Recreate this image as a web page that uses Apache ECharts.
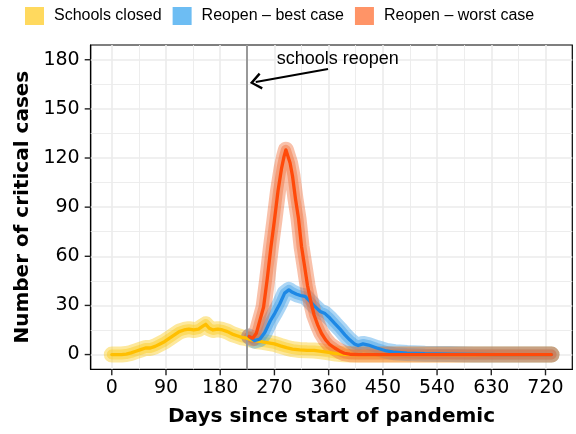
<!DOCTYPE html>
<html>
<head>
<meta charset="utf-8">
<script src="https://cdn.jsdelivr.net/npm/echarts@6/dist/echarts.min.js"></script>
<style>
html,body{margin:0;padding:0;background:#fff;}
#chart{width:576px;height:434px;}
</style>
</head>
<body>
<div id="chart"></div>
<script>
// ---- data ----
const closedDays  = [0, 8, 16, 24, 32, 40, 48, 56, 64, 72, 80, 88, 96, 104, 112, 120, 128, 136, 144, 150, 156, 162, 168, 176, 184, 192, 200, 208, 216, 224, 232, 240, 250, 260, 270, 280, 290, 300, 312, 324, 336, 348, 360, 372, 384, 400, 440, 500, 600, 730];
const closedCases = [0, 0, 0, 0.3, 1, 2, 3, 4, 4, 5, 6.5, 8, 10, 12, 14, 15, 15.5, 15, 15.5, 17, 18.5, 16, 15, 15.5, 15, 14, 12.5, 11.5, 10.5, 10, 9, 8.3, 7.8, 7.2, 6.5, 5.3, 4.2, 3.3, 2.8, 2.6, 2.5, 2, 1.3, 0.6, 0.2, 0, 0, 0, 0, 0];

const bestDays  = [228, 237, 246, 254, 263, 271, 279, 287, 294, 300, 307, 314, 321, 329, 337, 346, 354, 362, 370, 379, 387, 395, 403, 409, 417, 426, 440, 456, 470, 490, 520, 560, 600, 640, 730];
const bestCases = [11, 8.5, 9.5, 13.5, 20.5, 25.5, 31, 37.5, 39.5, 38, 36.8, 36, 35.5, 32.5, 29.4, 26.3, 25, 22.3, 19, 15.5, 12, 9, 6.5, 5.5, 6.5, 5.8, 4, 2.2, 1.4, 0.9, 0.5, 0.3, 0.1, 0, 0];

const worstDays  = [228, 234, 240, 246, 252, 258, 264, 270, 276, 282, 286, 289, 292, 296, 300, 305, 310, 315, 320, 325, 330, 336, 342, 348, 355, 362, 370, 378, 386, 395, 410, 450, 550, 650, 730];
const worstCases = [11, 10, 13, 21, 29, 46, 65, 82, 100, 114, 121, 125, 124.5, 117, 109, 95, 83, 66, 54, 42, 33, 24, 18, 13, 9, 6, 4, 2.2, 0.8, 0.2, 0, 0, 0, 0, 0];

const scenarioNames = ['Schools closed', 'Reopen \u2013 best case', 'Reopen \u2013 worst case'];
const xTicks = [0, 90, 180, 270, 360, 450, 540, 630, 720];
const xMinor = [45, 135, 225, 315, 405, 495, 585, 675];
const yTicks = [0, 30, 60, 90, 120, 150, 180];
const yMinor = [15, 45, 75, 105, 135, 165];
const reopenDay = 224.5;
const annotationText = 'schools reopen';
const arrowFrom = [359, 174.3];
const arrowTo = [239, 166.4];
const annotationAt = [375, 180.2];

// ---- styles ----
const bandColors   = ['#FAC814', '#399DE6', '#F06B34'];
const lineColors   = ['#FFBF00', '#1E88E5', '#FF4A0A'];
const legendColors = ['#FFD95E', '#6DBDF3', '#FF9467'];
const X_MIN = -35, X_MAX = 764.5, Y_MIN = -9, Y_MAX = 189;
const GRID = { left: 90.7, right: 3.7, top: 45, bottom: 64.7 };

function pairs(xs, ys) { return xs.map((d, i) => [d, ys[i]]); }
const dataSets = [pairs(closedDays, closedCases), pairs(bestDays, bestCases), pairs(worstDays, worstCases)];

const series = [];
dataSets.forEach((data, k) => {
  series.push({
    type: 'line', name: scenarioNames[k], data: data, showSymbol: false, symbol: 'none', z: 2,
    silent: true, animation: false,
    lineStyle: { color: bandColors[k], width: 16, opacity: 0.42, cap: 'round', join: 'round' },
    itemStyle: { color: legendColors[k] },
    emphasis: { disabled: true }
  });
  series.push({
    type: 'line', name: scenarioNames[k], data: data, showSymbol: false, symbol: 'none', z: 2,
    silent: true, animation: false,
    lineStyle: { color: bandColors[k], width: 10, opacity: 0.42, cap: 'round', join: 'round' },
    itemStyle: { color: legendColors[k] },
    emphasis: { disabled: true }
  });
});
dataSets.forEach((data, k) => {
  series.push({
    type: 'line', name: scenarioNames[k], data: data, showSymbol: false, symbol: 'none', z: 4,
    silent: true, animation: false,
    lineStyle: { color: lineColors[k], width: 3.3, cap: 'round', join: 'round' },
    itemStyle: { color: legendColors[k] },
    emphasis: { disabled: true }
  });
});

const gridLines = [];
xTicks.forEach(v => gridLines.push({ xAxis: v, lineStyle: { width: 1.6 } }));
xMinor.forEach(v => gridLines.push({ xAxis: v, lineStyle: { width: 0.9 } }));
yTicks.forEach(v => gridLines.push({ yAxis: v, lineStyle: { width: 1.6 } }));
yMinor.forEach(v => gridLines.push({ yAxis: v, lineStyle: { width: 0.9 } }));
series[0].markLine = {
  silent: true, symbol: 'none', z: 1, animation: false,
  label: { show: false }, emphasis: { disabled: true },
  lineStyle: { color: '#EBEBEB', type: 'solid', opacity: 1 },
  data: gridLines
};
series[1].markLine = {
  silent: true, symbol: 'none', z: 3, animation: false,
  label: { show: false }, emphasis: { disabled: true },
  lineStyle: { color: '#999999', width: 2, type: 'solid', opacity: 1 },
  data: [{ xAxis: reopenDay }]
};
series[2].markLine = {
  silent: true, z: 6, animation: false,
  symbol: ['none', 'path://M5,0 L10,8 L8.8,9.1 L5,2.8 L1.2,9.1 L0,8 Z'],
  symbolSize: [17, 12],
  label: { show: false }, emphasis: { disabled: true },
  lineStyle: { color: '#000', width: 2, type: 'solid', curveness: 0.14, opacity: 1 },
  data: [[{ coord: arrowFrom }, { coord: arrowTo }]]
};
series[2].markPoint = {
  silent: true, z: 6, animation: false, symbol: 'circle', symbolSize: 0,
  label: { show: true, position: 'inside', formatter: annotationText, color: '#000',
           fontFamily: 'Liberation Sans', fontSize: 18 },
  data: [{ coord: annotationAt }]
};

const axisFont = { fontFamily: 'DejaVu Sans', fontSize: 19, color: '#000' };

// axis tick marks at the tick values, on the same linear scale as the axes
const W = 576, H = 434, TICK = 6;
const plotW = W - GRID.left - GRID.right, plotH = H - GRID.top - GRID.bottom;
function xPix(v) { return GRID.left + (v - X_MIN) / (X_MAX - X_MIN) * plotW; }
function yPix(v) { return GRID.top + (Y_MAX - v) / (Y_MAX - Y_MIN) * plotH; }
const tickEls = [];
xTicks.forEach(v => {
  const x = xPix(v), y = H - GRID.bottom;
  tickEls.push({ type: 'line', silent: true, z: 100,
    shape: { x1: x, y1: y, x2: x, y2: y + TICK },
    style: { stroke: '#222', lineWidth: 1.4 } });
});
yTicks.forEach(v => {
  const y = yPix(v), x = GRID.left;
  tickEls.push({ type: 'line', silent: true, z: 100,
    shape: { x1: x - TICK, y1: y, x2: x, y2: y },
    style: { stroke: '#222', lineWidth: 1.4 } });
});

const option = {
  animation: false,
  backgroundColor: '#fff',
  grid: Object.assign({ show: true, borderColor: '#000', borderWidth: 1.2, backgroundColor: 'transparent', containLabel: false }, GRID),
  legend: {
    left: 20, top: 2, itemWidth: 19, itemHeight: 18, itemGap: 11, icon: 'rect', selectedMode: false,
    textStyle: { fontFamily: 'Liberation Sans', fontSize: 16, color: '#000', padding: [0, 0, 0, 5] },
    data: scenarioNames.map((n, k) => ({ name: n, icon: 'rect',
      itemStyle: { color: legendColors[k], opacity: 1, borderWidth: 0 },
      lineStyle: { width: 0, opacity: 0 } }))
  },
  graphic: { elements: tickEls },
  xAxis: {
    type: 'value', min: X_MIN, max: X_MAX,
    name: 'Days since start of pandemic', nameLocation: 'middle', nameGap: 37,
    nameTextStyle: { fontFamily: 'DejaVu Sans', fontWeight: 'bold', fontSize: 20, color: '#000' },
    axisLine: { show: true, onZero: false, lineStyle: { color: '#000', width: 1.2 } },
    axisTick: { show: false },
    axisLabel: Object.assign({ customValues: xTicks, margin: 9 }, axisFont),
    splitLine: { show: false }
  },
  yAxis: {
    type: 'value', min: Y_MIN, max: Y_MAX,
    name: 'Number of critical cases', nameLocation: 'middle', nameGap: 51,
    nameTextStyle: { fontFamily: 'DejaVu Sans', fontWeight: 'bold', fontSize: 20, color: '#000' },
    axisLine: { show: true, onZero: false, lineStyle: { color: '#000', width: 1.2 } },
    axisTick: { show: false },
    axisLabel: Object.assign({ customValues: yTicks, margin: 11 }, axisFont),
    splitLine: { show: false }
  },
  series: series
};

const chart = echarts.init(document.getElementById('chart'), null, { renderer: 'canvas' });
chart.setOption(option);
</script>
</body>
</html>
